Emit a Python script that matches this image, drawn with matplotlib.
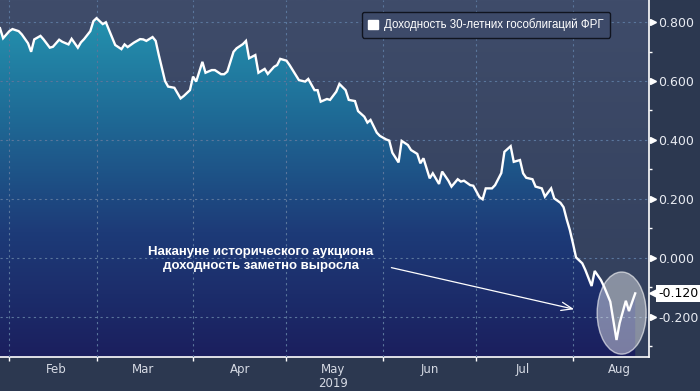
import numpy as np
import pandas as pd
import matplotlib
matplotlib.use('Agg')
import matplotlib.pyplot as plt
import matplotlib.dates as mdates
from matplotlib.colors import LinearSegmentedColormap
from matplotlib.patches import Ellipse, Patch
from matplotlib.transforms import blended_transform_factory, ScaledTranslation

# день года (0 = 1 января 2019) и доходность 30-летних Bund, %
day = [28, 29, 31, 32, 34, 35, 37, 38, 39, 41, 42, 44, 45, 47, 48, 50, 51, 53, 54, 55,
       57, 58, 59, 61, 62, 63, 65, 67, 68, 69, 71, 73, 74, 75, 77, 78, 79, 81, 82, 84,
       86, 87, 89, 90, 91, 93, 94, 96, 97, 99, 100, 101, 103, 104, 106, 107, 108, 110, 111, 113,
       114, 116, 117, 118, 120, 121, 123, 124, 126, 127, 129, 130, 131, 133, 134, 136, 137, 139, 140, 142,
       143, 145, 146, 147, 149, 150, 152, 153, 154, 156, 157, 159, 160, 162, 163, 164, 166, 167, 169, 170,
       172, 173, 175, 176, 177, 179, 180, 182, 183, 184, 186, 187, 189, 190, 192, 193, 195, 196, 197, 199,
       200, 202, 203, 205, 206, 208, 209, 210, 211, 212, 213, 215, 216, 218, 219, 221, 222, 224, 226, 227,
       229, 230, 232]
yld = [0.779, 0.745, 0.769, 0.776, 0.769, 0.758, 0.728, 0.699, 0.741, 0.753,
       0.741, 0.713, 0.716, 0.740, 0.733, 0.724, 0.743, 0.713, 0.731, 0.742,
       0.769, 0.803, 0.813, 0.793, 0.799, 0.773, 0.722, 0.708, 0.724, 0.715,
       0.730, 0.742, 0.741, 0.736, 0.749, 0.736, 0.688, 0.600, 0.581, 0.577,
       0.541, 0.549, 0.569, 0.615, 0.598, 0.665, 0.628, 0.637, 0.637, 0.623,
       0.623, 0.632, 0.699, 0.711, 0.725, 0.736, 0.677, 0.688, 0.628, 0.641,
       0.624, 0.648, 0.654, 0.675, 0.669, 0.654, 0.620, 0.603, 0.598, 0.607,
       0.569, 0.569, 0.530, 0.539, 0.536, 0.564, 0.590, 0.569, 0.536, 0.532,
       0.498, 0.479, 0.459, 0.468, 0.425, 0.414, 0.402, 0.398, 0.357, 0.324,
       0.397, 0.383, 0.366, 0.353, 0.321, 0.338, 0.270, 0.287, 0.251, 0.293,
       0.262, 0.242, 0.267, 0.259, 0.262, 0.247, 0.245, 0.206, 0.199, 0.236,
       0.236, 0.247, 0.288, 0.360, 0.379, 0.326, 0.332, 0.287, 0.272, 0.267,
       0.242, 0.236, 0.208, 0.236, 0.202, 0.187, 0.172, 0.131, 0.095, 0.050,
       0.002, -0.018, -0.041, -0.095, -0.044, -0.075, -0.097, -0.148, -0.278, -0.221,
       -0.145, -0.180, -0.120]

yticks = [-0.2, 0.0, 0.2, 0.4, 0.6, 0.8]
yminor = [-0.3, -0.1, 0.1, 0.3, 0.5, 0.7]
series_label = 'Доходность 30-летних гособлигаций ФРГ'
note = 'Накануне исторического аукциона\nдоходность заметно выросла'

dates = pd.Timestamp('2019-01-01') + pd.to_timedelta(day, unit='D')
ymin, ymax = -0.3356, 0.8746
x0 = mdates.date2num(pd.Timestamp('2019-01-29'))
x1 = x0 + 208.4

fig = plt.figure(figsize=(7, 3.91), dpi=100, facecolor='#2c3850')
ax = fig.add_axes([0, 0.087, 0.927, 0.913])
ax.set_facecolor('#3a4765')

# фон области графика
bg = LinearSegmentedColormap.from_list('bg', ['#313e5b', '#3f4c6a'])
ax.imshow(np.linspace(0, 1, 256).reshape(-1, 1), extent=[x0, x1, ymin, ymax],
          origin='lower', aspect='auto', cmap=bg, zorder=0)

# заливка под линией с градиентом
fillmap = LinearSegmentedColormap.from_list(
    'fill', [(0.0, '#1b1f5e'), (0.35, '#1d3b78'), (0.7, '#1f6e98'), (1.0, '#2599b3')])
poly = ax.fill_between(dates, yld, ymin, color='none', lw=0)
im = ax.imshow(np.linspace(0, 1, 256).reshape(-1, 1), extent=[x0, x1, ymin, ymax],
               origin='lower', aspect='auto', cmap=fillmap, zorder=1)
im.set_clip_path(poly.get_paths()[0], transform=ax.transData)

ax.plot(dates, yld, color='white', lw=1.7, zorder=3, solid_joinstyle='miter')

ax.set_xlim(x0, x1)
ax.set_ylim(ymin, ymax)

# оси
for s in ['top', 'left']:
    ax.spines[s].set_visible(False)
for s in ['right', 'bottom']:
    ax.spines[s].set_color('white')
    ax.spines[s].set_linewidth(1.2)

ax.xaxis.set_major_locator(mdates.MonthLocator())
ax.xaxis.set_major_formatter(plt.NullFormatter())
ax.xaxis.set_minor_locator(mdates.MonthLocator(bymonthday=16))
ax.xaxis.set_minor_formatter(mdates.DateFormatter('%b'))
ax.tick_params(axis='x', which='major', length=3, width=1, color='white')
ax.tick_params(axis='x', which='minor', length=0, pad=4, labelsize=8.5, labelcolor='#d6dae4')

ax.yaxis.tick_right()
ax.set_yticks(yticks)
ax.set_yticks(yminor, minor=True)
ax.set_yticklabels(['%.3f' % v for v in yticks])
ax.tick_params(axis='y', which='major', length=0, pad=7, labelsize=9, labelcolor='#e8ebf2')
ax.tick_params(axis='y', which='minor', length=2.5, width=1, color='white')

ax.grid(True, which='major', color='#5a769c', lw=0.8, ls=(0, (2, 3)))
ax.set_axisbelow(False)

ytrans = blended_transform_factory(ax.transAxes, ax.transData)
for v in yticks:
    ax.plot(1, v, marker='>', ms=4.5, color='white', clip_on=False,
            transform=ytrans + ScaledTranslation(4 / 100, 0, fig.dpi_scale_trans))

xtrans = blended_transform_factory(ax.transData, ax.transAxes)
ax.text(pd.Timestamp('2019-05-16'), -0.073, '2019', transform=xtrans, ha='center', va='center',
        fontsize=8.5, color='#d6dae4', clip_on=False)

# метка последнего значения
ax.plot(1, yld[-1], marker='<', ms=8, color='white', clip_on=False,
        transform=ytrans + ScaledTranslation(6 / 100, 0, fig.dpi_scale_trans))
ax.text(1, yld[-1], '%.3f' % yld[-1], transform=ytrans + ScaledTranslation(9 / 100, 0, fig.dpi_scale_trans),
        ha='left', va='center', fontsize=9, color='black', clip_on=False,
        bbox=dict(boxstyle='square,pad=0.15', fc='white', ec='none'))

leg = ax.legend(handles=[Patch(facecolor='white', edgecolor='white', label=series_label)],
                loc='upper right', bbox_to_anchor=(0.94, 0.966), borderaxespad=0,
                prop={'family': 'Liberation Sans', 'size': 8.3},
                labelcolor='white', handlelength=0.9, handleheight=0.9, handletextpad=0.5,
                borderpad=0.55, fancybox=True, framealpha=1)
leg.get_frame().set_facecolor('#3d4a69')
leg.get_frame().set_edgecolor('#10141f')
leg.get_frame().set_linewidth(1.0)
leg.set_zorder(6)

ax.annotate('', xy=(0.889, 0.132), xytext=(0.599, 0.252), xycoords='axes fraction',
            arrowprops=dict(arrowstyle='->,head_length=0.8,head_width=0.3', color='white', lw=0.9),
            zorder=5)
ax.text(0.402, 0.275, note, transform=ax.transAxes, ha='center', va='center', color='white',
        fontsize=9.5, fontweight='bold', family='Liberation Sans', linespacing=1.2, zorder=5)

ax.add_patch(Ellipse((0.958, 0.123), 0.0755, 0.23, transform=ax.transAxes,
                     facecolor=(1, 1, 1, 0.42), edgecolor=(1, 1, 1, 0.6), lw=1, zorder=4))

fig.savefig('out.png', dpi=100, facecolor=fig.get_facecolor())
